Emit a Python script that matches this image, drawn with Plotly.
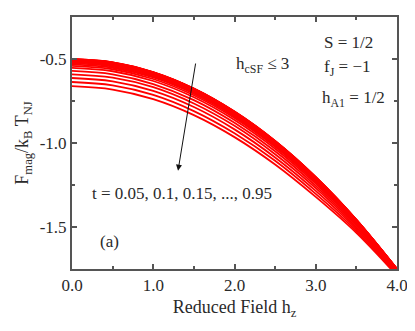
import plotly.graph_objects as go

# reduced field h_z where the curves were read
h_vals = [0.0, 0.5, 1.0, 1.5, 2.0, 2.5, 3.0, 3.5, 4.0]

t_vals = [0.05, 0.1, 0.15, 0.2, 0.25, 0.3, 0.35, 0.4, 0.45, 0.5,
          0.55, 0.6, 0.65, 0.7, 0.75, 0.8, 0.85, 0.9, 0.95]

# F_mag / k_B T_NJ for each t (rows) at h_vals (columns)
f_mag = [
    [-0.500, -0.520, -0.578, -0.676, -0.813, -0.988, -1.203, -1.457, -1.750],
    [-0.500, -0.520, -0.579, -0.676, -0.813, -0.988, -1.203, -1.457, -1.750],
    [-0.501, -0.521, -0.579, -0.677, -0.814, -0.989, -1.204, -1.457, -1.750],
    [-0.502, -0.522, -0.580, -0.678, -0.815, -0.990, -1.204, -1.458, -1.750],
    [-0.503, -0.523, -0.581, -0.679, -0.816, -0.991, -1.205, -1.458, -1.751],
    [-0.505, -0.525, -0.583, -0.681, -0.818, -0.992, -1.207, -1.459, -1.751],
    [-0.507, -0.527, -0.585, -0.683, -0.820, -0.994, -1.208, -1.460, -1.752],
    [-0.510, -0.530, -0.588, -0.686, -0.822, -0.997, -1.210, -1.462, -1.752],
    [-0.514, -0.534, -0.592, -0.690, -0.826, -1.000, -1.213, -1.464, -1.753],
    [-0.519, -0.539, -0.597, -0.694, -0.831, -1.004, -1.217, -1.466, -1.755],
    [-0.525, -0.545, -0.603, -0.700, -0.836, -1.010, -1.221, -1.469, -1.756],
    [-0.532, -0.552, -0.610, -0.707, -0.843, -1.016, -1.226, -1.472, -1.758],
    [-0.541, -0.561, -0.619, -0.716, -0.851, -1.023, -1.233, -1.477, -1.760],
    [-0.553, -0.573, -0.631, -0.728, -0.863, -1.034, -1.242, -1.483, -1.763],
    [-0.571, -0.591, -0.649, -0.745, -0.880, -1.049, -1.255, -1.491, -1.768],
    [-0.591, -0.611, -0.668, -0.765, -0.898, -1.067, -1.269, -1.501, -1.772],
    [-0.613, -0.633, -0.690, -0.786, -0.919, -1.086, -1.285, -1.511, -1.778],
    [-0.637, -0.657, -0.714, -0.810, -0.942, -1.106, -1.303, -1.523, -1.784],
    [-0.662, -0.682, -0.739, -0.834, -0.965, -1.128, -1.321, -1.535, -1.790],
]

x_ticks = [0, 1, 2, 3, 4]
x_labels = ["0.0", "1.0", "2.0", "3.0", "4.0"]
y_ticks = [-1.5, -1.0, -0.5]
y_labels = ["-1.5", "-1.0", "-0.5"]

serif = "Liberation Serif"
ink = "#2a2a2a"
axc = "#555555"

fig = go.Figure()
for t, row in zip(t_vals, f_mag):
    fig.add_trace(go.Scatter(x=h_vals, y=row, mode="lines", name="t = %g" % t,
                             line=dict(color="#ff0000", width=1.8, shape="spline"),
                             showlegend=False))

axis_style = dict(showgrid=False, zeroline=False, showline=True, linecolor=axc,
                  linewidth=2, mirror="allticks", ticks="inside", ticklen=5,
                  tickwidth=1.5, tickcolor=axc,
                  tickfont=dict(family=serif, size=17, color=ink))

fig.update_xaxes(range=[0, 4], tickvals=x_ticks, ticktext=x_labels,
                 minor=dict(dtick=0.5, ticks="inside", ticklen=3, tickcolor=axc),
                 title=dict(text="Reduced Field h<sub>z</sub>", standoff=6,
                            font=dict(family=serif, size=18, color=ink)),
                 **axis_style)
fig.update_yaxes(range=[-1.75, -0.25], tickvals=y_ticks, ticktext=y_labels,
                 minor=dict(dtick=0.25, tick0=0, ticks="inside", ticklen=3, tickcolor=axc),
                 title=dict(text="F<sub>mag</sub>/k<sub>B</sub> T<sub>NJ</sub>", standoff=6,
                            font=dict(family=serif, size=18, color=ink)),
                 **axis_style)

txt = dict(family=serif, size=17, color=ink)
notes = [
    (2.35, -0.535, "h<sub>cSF</sub> ≤ 3", "center"),
    (3.08, -0.40, "S = 1/2", "left"),
    (3.08, -0.553, "f<sub>J</sub> = −1", "left"),
    (3.05, -0.74, "h<sub>A1</sub> = 1/2", "left"),
    (0.22, -1.30, "t = 0.05, 0.1, 0.15, ..., 0.95", "left"),
    (0.32, -1.588, "(a)", "left"),
]
for x, y, s, anc in notes:
    fig.add_annotation(x=x, y=y, text=s, showarrow=False, xanchor=anc,
                       yanchor="middle", font=txt)

# arrow showing increasing t
fig.add_annotation(x=1.305, y=-1.165, ax=1.524, ay=-0.518, axref="x", ayref="y",
                   text="", showarrow=True, arrowhead=2, arrowsize=1.2,
                   arrowwidth=1, arrowcolor="#111111")

# page body adds an 8px offset, so the figure is drawn 8px smaller
fig.update_layout(width=407, height=323, margin=dict(l=64, r=15, t=7, b=62),
                  plot_bgcolor="white", paper_bgcolor="white")

fig.write_html("out.html")
